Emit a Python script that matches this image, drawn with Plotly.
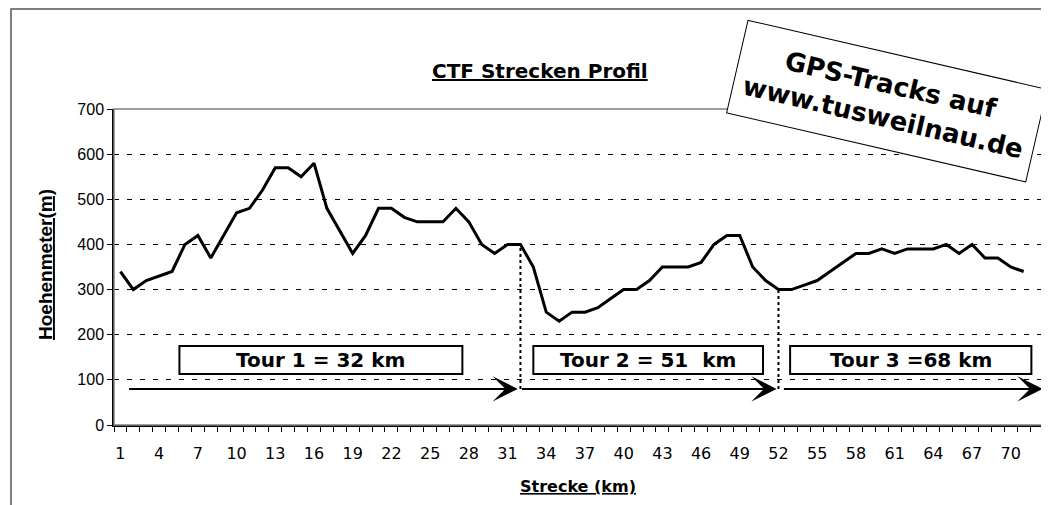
import plotly.graph_objects as go

# ---- data ----
strecke_km = list(range(1, 72))
hoehe_m = [340, 300, 320, 330, 340, 400, 420, 370, 420, 470,
           480, 520, 570, 570, 550, 580, 480, 430, 380, 420,
           480, 480, 460, 450, 450, 450, 480, 450, 400, 380,
           400, 400, 350, 250, 230, 250, 250, 260, 280, 300,
           300, 320, 350, 350, 350, 360, 400, 420, 420, 350,
           320, 300, 300, 310, 320, 340, 360, 380, 380, 390,
           380, 390, 390, 390, 400, 380, 400, 370, 370, 350, 340]
x_tick_vals = list(range(1, 71, 3))
y_tick_vals = [0, 100, 200, 300, 400, 500, 600, 700]
tour_labels = ["Tour 1 = 32 km", "Tour 2 = 51\u00a0 km", "Tour 3 =68 km"]
tour_split_km = [32, 52]

# ---- layout constants (positions/styles) ----
OFF = 8  # page body margin
W, H = 1049, 505
L = 114 - OFF
T = 109 - OFF
R = W - (1043 - OFF)
B = H - (425 - OFF)
PW, PH = W - L - R, H - T - B

def px_x(p):
    return (p - OFF - L) / PW

def px_y(p):
    return (H - B - (p - OFF)) / PH

fig = go.Figure()
fig.add_trace(go.Scatter(x=strecke_km, y=hoehe_m, mode="lines",
                         line=dict(color="black", width=3), showlegend=False,
                         hoverinfo="x+y"))

shapes = []
# plot area border (grey)
shapes.append(dict(type="rect", xref="paper", yref="paper", x0=0, y0=0, x1=1, y1=1,
                   line=dict(color="#808080", width=1.5), layer="above"))
# outer chart border
shapes.append(dict(type="rect", xref="paper", yref="paper",
                   x0=px_x(11), x1=px_x(1070), y0=px_y(530), y1=px_y(9),
                   line=dict(color="#555555", width=1.5), layer="above"))
# tour boxes
box_x = [(5.57, 27.5), (33.0, 50.8), (52.9, 71.6)]
box_y = (113, 175)
for (bx0, bx1), lab in zip(box_x, tour_labels):
    shapes.append(dict(type="rect", xref="x", yref="y", x0=bx0, x1=bx1,
                       y0=box_y[0], y1=box_y[1], fillcolor="white",
                       line=dict(color="black", width=2), layer="above"))
arrow_y = 80
# dotted separators
for s in tour_split_km:
    shapes.append(dict(type="line", xref="x", yref="y", x0=s, x1=s,
                       y0=arrow_y, y1=hoehe_m[s - 1],
                       line=dict(color="black", width=2, dash="dot"), layer="above"))

annotations = []
for (bx0, bx1), lab in zip(box_x, tour_labels):
    annotations.append(dict(x=(bx0 + bx1) / 2, y=(box_y[0] + box_y[1]) / 2,
                            xref="x", yref="y", text="<b>" + lab + "</b>",
                            showarrow=False, xanchor="center", yanchor="middle",
                            font=dict(family="DejaVu Sans", size=20, color="black")))
arrows = [(1.55, 31.8), (32.0, 51.85), (52.3, 72.47)]
for a0, a1 in arrows:
    annotations.append(dict(x=a1, y=arrow_y, ax=a0, ay=arrow_y, xref="x", yref="y",
                            axref="x", ayref="y", text="", showarrow=True,
                            arrowhead=3, arrowsize=2.1, arrowwidth=2,
                            arrowcolor="black", standoff=0))
# title
annotations.append(dict(x=px_x(540), y=px_y(71), xref="paper", yref="paper",
                        xanchor="center", yanchor="middle",
                        text="<b><u>CTF Strecken Profil</u></b>", showarrow=False,
                        font=dict(family="DejaVu Sans", size=20, color="black")))
# axis titles
annotations.append(dict(x=px_x(578), y=px_y(486), xref="paper", yref="paper",
                        xanchor="center", yanchor="middle",
                        text="<b><u>Strecke (km)</u></b>", showarrow=False,
                        font=dict(family="DejaVu Sans", size=16, color="black")))
annotations.append(dict(x=px_x(45), y=px_y(265), xref="paper", yref="paper",
                        xanchor="center", yanchor="middle",
                        text="<b><u>Hoehenmeter(m)</u></b>", showarrow=False,
                        textangle=-90,
                        font=dict(family="Liberation Sans", size=19, color="black")))
# rotated GPS note
annotations.append(dict(x=px_x(886.5), y=px_y(100.5), xref="paper", yref="paper",
                        xanchor="center", yanchor="middle",
                        text="<b>GPS-Tracks auf<br>www.tusweilnau.de</b>",
                        showarrow=False, textangle=13, width=290, height=78,
                        borderpad=8, bordercolor="black", borderwidth=1,
                        bgcolor="white", align="center",
                        font=dict(family="DejaVu Sans", size=26, color="black")))

fig.update_layout(
    width=W, height=H,
    margin=dict(l=L, r=R, t=T, b=B),
    paper_bgcolor="white", plot_bgcolor="white",
    shapes=shapes, annotations=annotations,
    xaxis=dict(range=[0.5, 72.5], tickmode="array", tickvals=x_tick_vals,
               ticktext=[str(v) for v in x_tick_vals],
               ticks="outside", ticklen=13, tickcolor="rgba(0,0,0,0)",
               showgrid=False, zeroline=False,
               showline=True, linecolor="black", linewidth=1.5,
               tickfont=dict(family="DejaVu Sans", size=16, color="black"),
               minor=dict(tick0=0.5, dtick=1, ticks="outside", ticklen=5,
                          tickcolor="black", tickwidth=1, showgrid=False)),
    yaxis=dict(range=[0, 700], tickmode="array", tickvals=y_tick_vals,
               ticks="outside", ticklen=5, tickcolor="black",
               showgrid=True, gridcolor="black", gridwidth=1, griddash="5px,8px",
               zeroline=False, showline=True, linecolor="black", linewidth=1.5,
               tickfont=dict(family="Liberation Sans", size=16, color="black")),
)

fig.write_html("out.html")
